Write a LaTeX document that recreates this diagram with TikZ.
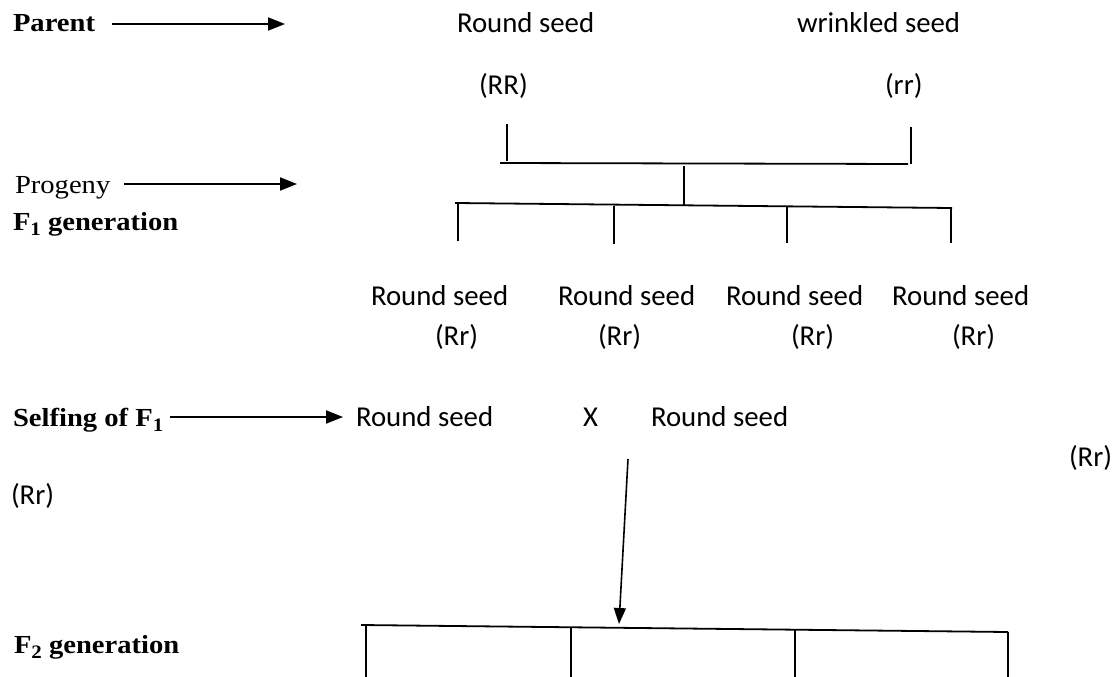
\documentclass[tikz,border=0pt]{standalone}
\usepackage{fontspec}
\usetikzlibrary{arrows.meta}
\newfontfamily\calfont{Carlito}
\newfontfamily\serfont{Liberation Serif}[FakeStretch=1.1]
\newcommand{\subdigit}[1]{\raisebox{-0.2em}{\fontsize{19}{19}\selectfont #1}}
\begin{document}
\begin{tikzpicture}[x=1pt,y=-1pt,
  seed/.style={anchor=base west,inner sep=0pt,outer sep=0pt,font=\calfont\fontsize{28.8}{34}\selectfont},
  lab/.style={anchor=base west,inner sep=0pt,outer sep=0pt,font=\serfont\bfseries\fontsize{26}{31}\selectfont},
  plainlab/.style={anchor=base west,inner sep=0pt,outer sep=0pt,font=\serfont\fontsize{26}{31}\selectfont},
  link/.style={line width=1.8pt},
  ptr/.style={line width=2pt,-{Triangle[length=17pt,width=13pt]}},
  downptr/.style={line width=1.6pt,-{Triangle[length=16pt,width=12pt]}}
]
\fill[white] (0,0) rectangle (1116,677);
\useasboundingbox (0,0) rectangle (1116,677);

% labels on the left
\node[lab] (parent) at (13,32) {Parent};
\node[plainlab] (prog) at (15,193) {Progeny};
\node[lab] (f1) at (13,230) {F\subdigit{1} generation};
\node[lab] (self) at (13,426) {Selfing of F\subdigit{1}};
\node[lab] (f2) at (14,653) {F\subdigit{2} generation};

% parents
\node[seed] (rs) at (457,33) {Round seed};
\node[seed] (ws) at (797,33) {wrinkled seed};
\node[seed] (RR) at (479,95) {(RR)};
\node[seed] (rr) at (885,95) {(rr)};

% F1 progeny
\node[seed] (s1) at (371,305) {Round seed};
\node[seed] (s2) at (558,305) {Round seed};
\node[seed] (s3) at (726,305) {Round seed};
\node[seed] (s4) at (892,305) {Round seed};
\node[seed] (g1) at (435,345) {(Rr)};
\node[seed] (g2) at (598,345) {(Rr)};
\node[seed] (g3) at (791,345) {(Rr)};
\node[seed] (g4) at (952,345) {(Rr)};

% selfing
\node[seed] (x1) at (356,426) {Round seed};
\node[seed] (cross) at (583,426) {X};
\node[seed] (x2) at (651,426) {Round seed};
\node[seed] (gR) at (1069,466) {(Rr)};
\node[seed] (gL) at (11,504) {(Rr)};

% arrows from labels
\coordinate (a1s) at (112,24);  \coordinate (a1e) at (285,24);
\coordinate (a2s) at (124,184); \coordinate (a2e) at (297,184);
\coordinate (a3s) at (170,417); \coordinate (a3e) at (343,417);
\draw[ptr] (a1s) -- (a1e);
\draw[ptr] (a2s) -- (a2e);
\draw[ptr] (a3s) -- (a3e);

% cross bracket
\coordinate (pl1) at (507,124); \coordinate (pl2) at (507,161);
\coordinate (pr1) at (911,127); \coordinate (pr2) at (911,164);
\coordinate (hl) at (500,163);  \coordinate (hr) at (908,164);
\coordinate (st1) at (684,166); \coordinate (st2) at (684,205);
\coordinate (ll) at (455,203);  \coordinate (lr) at (952,208);
\draw[link] (pl1) -- (pl2);
\draw[link] (pr1) -- (pr2);
\draw[link] (hl) -- (hr);
\draw[link] (st1) -- (st2);
\draw[link] (ll) -- (lr);
\coordinate (d1a) at (458,204); \coordinate (d1b) at (458,241);
\coordinate (d2a) at (614,206); \coordinate (d2b) at (614,244);
\coordinate (d3a) at (787,207); \coordinate (d3b) at (787,243);
\coordinate (d4a) at (951,208); \coordinate (d4b) at (951,243);
\draw[link] (d1a) -- (d1b);
\draw[link] (d2a) -- (d2b);
\draw[link] (d3a) -- (d3b);
\draw[link] (d4a) -- (d4b);

% selfing arrow and F2 bracket
\coordinate (sa) at (628,459); \coordinate (sb) at (619,624);
\draw[downptr] (sa) -- (sb);
\coordinate (f2l) at (361,625); \coordinate (f2r) at (1008,632);
\draw[line width=1.8pt] (f2l) -- (f2r);
\coordinate (e1) at (366,626);  \coordinate (e1b) at (366,677);
\coordinate (e2) at (571,628);  \coordinate (e2b) at (571,677);
\coordinate (e3) at (795,630);  \coordinate (e3b) at (795,677);
\coordinate (e4) at (1008,632); \coordinate (e4b) at (1008,677);
\draw[line width=1.2pt] (e1) -- (e1b);
\draw[line width=1.2pt] (e2) -- (e2b);
\draw[line width=1.2pt] (e3) -- (e3b);
\draw[line width=1.2pt] (e4) -- (e4b);
\end{tikzpicture}
\end{document}
